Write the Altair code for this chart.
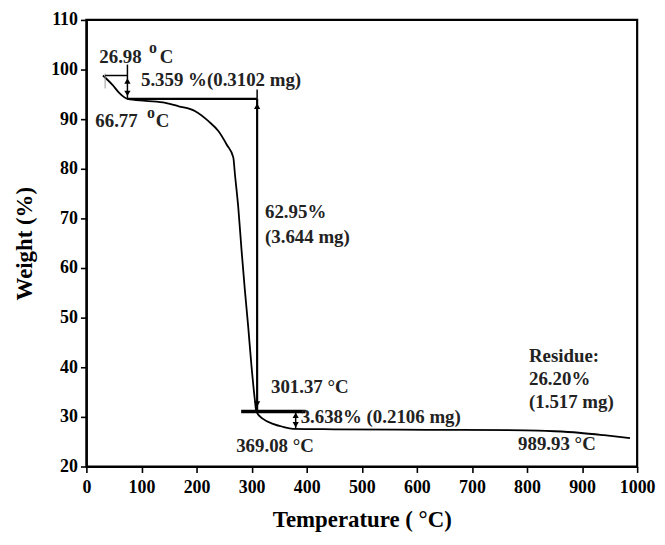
import altair as alt
import pandas as pd

# TGA curve
temp = [30, 47.4, 59.5, 74.5, 107.5, 143.6, 167.6, 197.6, 221.6, 239.6, 254.6, 266.7,
        269.7, 275.7, 281.7, 287.7, 293.7, 299.7, 305.7, 308.7, 320.7, 338.7, 356.8,
        374.8, 450, 618, 798, 850, 894, 940, 987]
weight = [98.8, 96.9, 95.3, 94.1, 93.7, 93.3, 92.6, 91.6, 89.6, 87.6, 84.9, 82.3,
          78.9, 72.3, 63.6, 55.6, 48.3, 40.3, 33.6, 31.0, 29.6, 28.6, 28.0,
          27.6, 27.5, 27.4, 27.3, 27.1, 26.8, 26.3, 25.7]

x_ticks = list(range(0, 1001, 50))
y_ticks = list(range(20, 111, 5))

# annotation texts and their anchor points (temperature, weight)
ann_text = ["5.359 %(0.3102 mg)", "62.95%", "(3.644 mg)", "301.37 °C",
            "3.638% (0.2106 mg)", "369.08 °C", "Residue:", "26.20%", "(1.517 mg)",
            "989.93 °C", "26.98", "C", "66.77", "C"]
ann_t = [99.1, 324.3, 324.3, 335.1, 389.0, 272.0, 803.6, 803.6, 803.6, 783.8,
         23.4, 133.3, 16.2, 126.0]
ann_w = [97.8, 71.2, 66.2, 36.0, 30.0, 24.2, 42.2, 37.6, 33.0, 24.6,
         102.6, 102.6, 89.6, 89.6]

sup_t = [113.5, 110.0]
sup_w = [104.4, 91.2]

# guide segments (t1, w1, t2, w2)
thick_t1 = [74.5, 310.0]
thick_w1 = [94.1, 94.1]
thick_t2 = [310.0, 310.0]
thick_w2 = [94.1, 31.2]

bar_t1 = [281.0]
bar_w1 = [31.1]
bar_t2 = [398.0]
bar_w2 = [31.1]

thin_t1 = [34.0, 74.5, 310.0, 380.0]
thin_w1 = [98.8, 101.0, 96.0, 31.1]
thin_t2 = [74.5, 74.5, 310.0, 380.0]
thin_w2 = [98.8, 94.1, 94.1, 27.6]

faint_t1 = [34.0]
faint_w1 = [99.2]
faint_t2 = [34.0]
faint_w2 = [96.2]

down_t = [74.5, 310.0, 380.0]
down_w = [95.2, 32.6, 28.4]
up_t = [310.0, 74.5, 380.0]
up_w = [92.6, 97.7, 30.3]

FONT = "Liberation Serif"

xs = alt.Scale(domain=[0, 1000], nice=False, zero=False)
ys = alt.Scale(domain=[20, 110], nice=False, zero=False)

curve_df = pd.DataFrame({"T": temp, "W": weight})
ann_df = pd.DataFrame({"T": ann_t, "W": ann_w, "txt": ann_text})
sup_df = pd.DataFrame({"T": sup_t, "W": sup_w, "txt": ["o", "o"]})


def seg_df(t1, w1, t2, w2):
    return pd.DataFrame({"t1": t1, "w1": w1, "t2": t2, "w2": w2})


x_major = "datum.value % 100 === 0"
y_major = "datum.value % 10 === 0"

curve = alt.Chart(curve_df).mark_line(color="black", strokeWidth=1.8, interpolate="monotone").encode(
    x=alt.X("T:Q", scale=xs,
            axis=alt.Axis(values=x_ticks, title="Temperature ( °C)", format="d",
                          labelExpr=x_major + " ? datum.label : ''",
                          tickSize={"condition": {"test": x_major, "value": 6}, "value": 4},
                          grid=False, tickWidth=1.6, domainWidth=2,
                          domainColor="black", tickColor="black",
                          labelFont=FONT, labelFontSize=18, labelFontWeight="bold",
                          labelColor="black", labelPadding=6,
                          titleFont=FONT, titleFontSize=23, titleFontWeight="bold",
                          titleColor="black", titlePadding=12, labelFlush=False,
                          labelOverlap=False)),
    y=alt.Y("W:Q", scale=ys,
            axis=alt.Axis(values=y_ticks, title="Weight (%)", format="d",
                          labelExpr=y_major + " ? datum.label : ''",
                          tickSize={"condition": {"test": y_major, "value": 6}, "value": 4},
                          grid=False, tickWidth=1.6, domainWidth=2,
                          domainColor="black", tickColor="black",
                          labelFont=FONT, labelFontSize=18, labelFontWeight="bold",
                          labelColor="black", labelPadding=3,
                          titleFont=FONT, titleFontSize=23, titleFontWeight="bold",
                          titleColor="black", titlePadding=14, labelFlush=False,
                          labelOverlap=False)),
)


def rules(df, width, color="black"):
    return alt.Chart(df).mark_rule(color=color, strokeWidth=width).encode(
        x=alt.X("t1:Q", scale=xs), y=alt.Y("w1:Q", scale=ys),
        x2="t2:Q", y2="w2:Q")


thick = rules(seg_df(thick_t1, thick_w1, thick_t2, thick_w2), 2.2)
bar = rules(seg_df(bar_t1, bar_w1, bar_t2, bar_w2), 3.5)
thin = rules(seg_df(thin_t1, thin_w1, thin_t2, thin_w2), 1.5)
faint = rules(seg_df(faint_t1, faint_w1, faint_t2, faint_w2), 1.0, "#999999")

downs = alt.Chart(pd.DataFrame({"T": down_t, "W": down_w})).mark_point(
    shape="triangle-down", filled=True, color="black", size=40, opacity=1).encode(
    x=alt.X("T:Q", scale=xs), y=alt.Y("W:Q", scale=ys))
ups = alt.Chart(pd.DataFrame({"T": up_t, "W": up_w})).mark_point(
    shape="triangle-up", filled=True, color="black", size=40, opacity=1).encode(
    x=alt.X("T:Q", scale=xs), y=alt.Y("W:Q", scale=ys))

texts = alt.Chart(ann_df).mark_text(
    font=FONT, fontSize=19, fontWeight="bold", align="left", baseline="middle",
    color="#222222").encode(
    x=alt.X("T:Q", scale=xs), y=alt.Y("W:Q", scale=ys), text="txt:N")

sups = alt.Chart(sup_df).mark_text(
    font=FONT, fontSize=16, fontWeight="bold", align="left", baseline="middle",
    color="#222222").encode(
    x=alt.X("T:Q", scale=xs), y=alt.Y("W:Q", scale=ys), text="txt:N")

chart = alt.layer(curve, faint, thin, thick, bar, downs, ups, texts, sups).properties(
    width=555, height=450,
    background="white",
    autosize=alt.AutoSizeParams(type="none"),
    padding={"left": 79, "top": 10, "right": 20, "bottom": 66},
).configure_view(stroke="black", strokeWidth=2.2)

chart.save("out.html", embed_options={"renderer": "svg", "actions": False})
